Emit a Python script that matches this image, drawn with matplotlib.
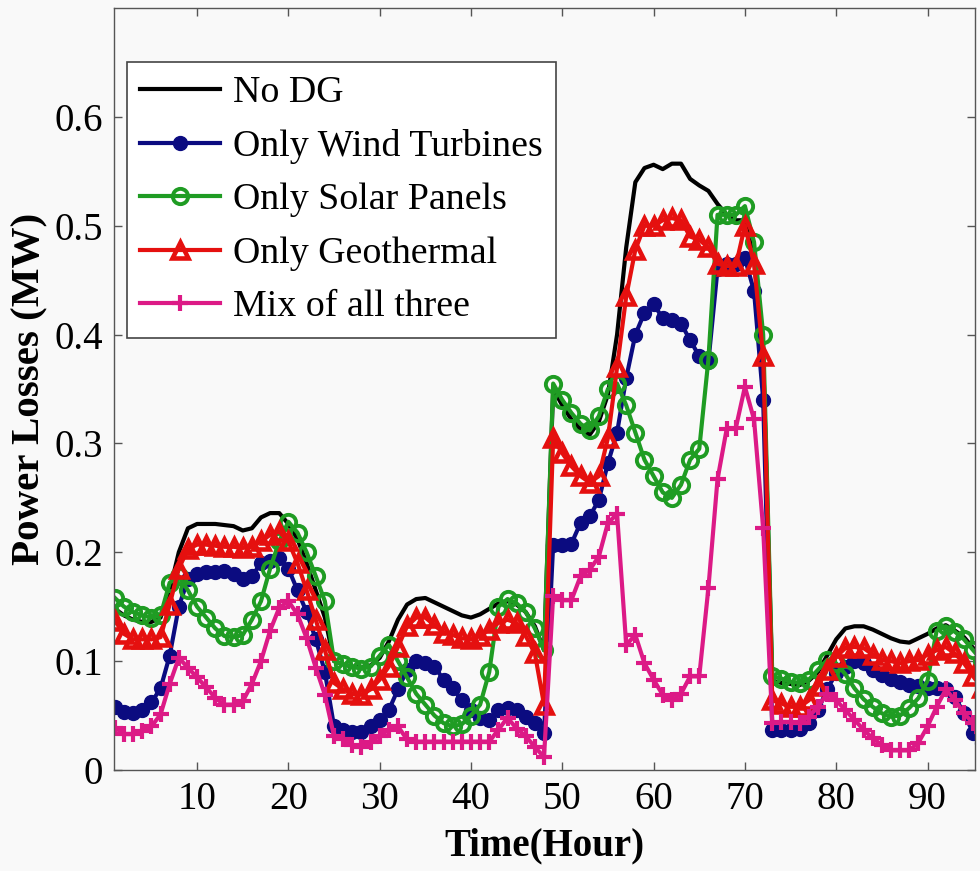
import matplotlib
matplotlib.use("Agg")
import matplotlib.pyplot as plt

# hourly power losses (MW) over 96 hours
hours = list(range(1, 97))

no_dg = [
    0.148, 0.142, 0.138, 0.136, 0.136, 0.140, 0.165, 0.200, 0.222, 0.226, 0.226, 0.226,
    0.225, 0.224, 0.220, 0.222, 0.232, 0.236, 0.236, 0.226, 0.212, 0.190, 0.165, 0.140,
    0.100, 0.097, 0.095, 0.094, 0.096, 0.103, 0.118, 0.138, 0.152, 0.157, 0.158, 0.154,
    0.150, 0.146, 0.142, 0.140, 0.143, 0.148, 0.153, 0.155, 0.152, 0.145, 0.132, 0.110,
    0.350, 0.335, 0.322, 0.313, 0.308, 0.320, 0.345, 0.400, 0.480, 0.540, 0.553, 0.556,
    0.552, 0.557, 0.557, 0.543, 0.537, 0.532, 0.520, 0.510, 0.505, 0.505, 0.470, 0.380,
    0.082, 0.080, 0.079, 0.078, 0.082, 0.090, 0.105, 0.120, 0.130, 0.132, 0.132, 0.129,
    0.125, 0.121, 0.118, 0.117, 0.121, 0.125, 0.130, 0.133, 0.128, 0.122, 0.112, 0.105,
]
wind = [
    0.058, 0.053, 0.052, 0.055, 0.062, 0.075, 0.105, 0.150, 0.175, 0.180, 0.182, 0.182,
    0.183, 0.180, 0.175, 0.178, 0.190, 0.192, 0.195, 0.185, 0.165, 0.145, 0.120, 0.090,
    0.040, 0.037, 0.035, 0.035, 0.040, 0.046, 0.055, 0.074, 0.092, 0.100, 0.098, 0.095,
    0.083, 0.075, 0.064, 0.055, 0.048, 0.046, 0.055, 0.057, 0.055, 0.049, 0.043, 0.034,
    0.207, 0.207, 0.208, 0.227, 0.233, 0.248, 0.282, 0.310, 0.360, 0.400, 0.420, 0.428,
    0.415, 0.413, 0.410, 0.395, 0.380, 0.375, 0.460, 0.465, 0.465, 0.470, 0.440, 0.340,
    0.037, 0.037, 0.037, 0.038, 0.043, 0.055, 0.074, 0.089, 0.095, 0.100, 0.098, 0.092,
    0.087, 0.084, 0.081, 0.078, 0.077, 0.075, 0.075, 0.074, 0.067, 0.052, 0.034, 0.025,
]
solar = [
    0.158, 0.150, 0.145, 0.142, 0.140, 0.142, 0.172, 0.178, 0.165, 0.150, 0.140, 0.130,
    0.123, 0.122, 0.124, 0.138, 0.155, 0.185, 0.210, 0.228, 0.218, 0.200, 0.178, 0.155,
    0.100, 0.097, 0.095, 0.093, 0.095, 0.105, 0.115, 0.100, 0.085, 0.070, 0.060, 0.050,
    0.043, 0.040, 0.042, 0.050, 0.060, 0.090, 0.150, 0.157, 0.153, 0.145, 0.130, 0.110,
    0.355, 0.340, 0.328, 0.318, 0.312, 0.325, 0.350, 0.355, 0.335, 0.310, 0.285, 0.270,
    0.255, 0.250, 0.262, 0.285, 0.295, 0.377, 0.510, 0.510, 0.510, 0.518, 0.485, 0.400,
    0.086, 0.084, 0.081, 0.080, 0.083, 0.092, 0.101, 0.098, 0.088, 0.075, 0.065, 0.058,
    0.052, 0.049, 0.050, 0.057, 0.066, 0.082, 0.128, 0.132, 0.127, 0.120, 0.110, 0.100,
]
geothermal = [
    0.137, 0.125, 0.120, 0.120, 0.120, 0.122, 0.152, 0.185, 0.203, 0.207, 0.207, 0.206,
    0.205, 0.205, 0.204, 0.205, 0.210, 0.216, 0.219, 0.210, 0.190, 0.165, 0.138, 0.110,
    0.080, 0.074, 0.070, 0.069, 0.074, 0.083, 0.095, 0.113, 0.132, 0.140, 0.140, 0.133,
    0.126, 0.124, 0.121, 0.120, 0.123, 0.129, 0.135, 0.138, 0.135, 0.123, 0.107, 0.060,
    0.305, 0.291, 0.279, 0.270, 0.264, 0.270, 0.305, 0.370, 0.435, 0.478, 0.500, 0.500,
    0.505, 0.507, 0.505, 0.490, 0.487, 0.480, 0.465, 0.463, 0.463, 0.500, 0.465, 0.380,
    0.064, 0.061, 0.058, 0.058, 0.064, 0.077, 0.092, 0.104, 0.112, 0.113, 0.112, 0.106,
    0.101, 0.100, 0.098, 0.100, 0.101, 0.106, 0.110, 0.113, 0.107, 0.098, 0.086, 0.075,
]
mix = [
    0.039, 0.033, 0.033, 0.036, 0.040, 0.051, 0.079, 0.103, 0.094, 0.085, 0.076, 0.066,
    0.060, 0.060, 0.063, 0.079, 0.100, 0.128, 0.149, 0.155, 0.143, 0.121, 0.094, 0.069,
    0.031, 0.028, 0.023, 0.021, 0.026, 0.031, 0.037, 0.040, 0.028, 0.026, 0.026, 0.026,
    0.026, 0.026, 0.026, 0.026, 0.026, 0.026, 0.037, 0.048, 0.038, 0.031, 0.021, 0.012,
    0.160, 0.156, 0.156, 0.178, 0.184, 0.196, 0.227, 0.235, 0.115, 0.124, 0.098, 0.083,
    0.069, 0.064, 0.070, 0.086, 0.086, 0.167, 0.267, 0.313, 0.314, 0.352, 0.322, 0.222,
    0.043, 0.044, 0.044, 0.043, 0.049, 0.058, 0.070, 0.064, 0.055, 0.046, 0.037, 0.029,
    0.023, 0.018, 0.018, 0.018, 0.025, 0.040, 0.058, 0.074, 0.064, 0.052, 0.043, 0.035,
]

labels = ["No DG", "Only Wind Turbines", "Only Solar Panels", "Only Geothermal", "Mix of all three"]
xticks = [10, 20, 30, 40, 50, 60, 70, 80, 90]
yticks = [0, 0.1, 0.2, 0.3, 0.4, 0.5, 0.6]
ytick_labels = ["0", "0.1", "0.2", "0.3", "0.4", "0.5", "0.6"]

plt.rcParams["font.family"] = ["Liberation Serif", "DejaVu Serif"]

bg = "#f9f9f9"
fig = plt.figure(figsize=(9.8, 8.71), dpi=100, facecolor=bg)
ax = fig.add_axes([0.1163, 0.116, 0.8786, 0.8748], facecolor=bg)

lw = 3.0
ax.plot(hours, no_dg, color="black", lw=lw, label=labels[0])
ax.plot(hours, wind, color="#0b0b80", lw=lw, marker="o", ms=10,
        mfc="#0b0b80", mec="#0b0b80", label=labels[1])
ax.plot(hours, solar, color="#1f9c23", lw=lw, marker="o", ms=11,
        mfc="none", mec="#1f9c23", mew=2.8, label=labels[2])
ax.plot(hours, geothermal, color="#e5100f", lw=lw, marker="^", ms=11,
        mfc="none", mec="#e5100f", mew=3.3, label=labels[3])
ax.plot(hours, mix, color="#dc1a86", lw=lw, marker="+", ms=12,
        mew=3.0, label=labels[4])

ax.set_xlim(0.9, 95.2)
ax.set_ylim(0, 0.7)
ax.set_xticks(xticks)
ax.set_yticks(yticks)
ax.set_yticklabels(ytick_labels)

for s in ax.spines.values():
    s.set_color("#555555")
    s.set_linewidth(1.0)
ax.tick_params(direction="in", length=6, width=1, color="#555555",
               top=True, right=True, labelsize=28, pad=8)

ax.set_xlabel("Time(Hour)", fontsize=28, fontweight="bold", labelpad=7)
ax.set_ylabel("Power Losses (MW)", fontsize=29.5, fontweight="bold", labelpad=4)

leg = ax.legend(loc="upper left", bbox_to_anchor=(0.015, 0.929), borderaxespad=0,
                fontsize=27.3, frameon=True, fancybox=False, handlelength=2.1,
                handletextpad=0.35, labelspacing=0.5, borderpad=0.35)
leg.get_frame().set_edgecolor("#444444")
leg.get_frame().set_linewidth(1.2)
leg.get_frame().set_facecolor("white")
leg.get_frame().set_alpha(1)

fig.savefig("out.png", dpi=100, facecolor=bg)
